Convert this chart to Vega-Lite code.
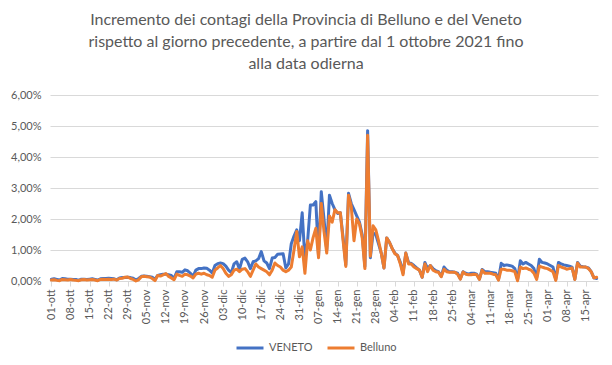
{
  "$schema": "https://vega.github.io/schema/vega-lite/v6.json",
  "width": 548,
  "height": 186,
  "autosize": {"type": "none"},
  "padding": {"left": 50, "top": 95, "right": 14, "bottom": 84},
  "background": "white",
  "title": {
    "text": ["Incremento dei contagi della Provincia di Belluno e del  Veneto", "rispetto al giorno precedente, a partire dal 1 ottobre 2021 fino", "alla data odierna"],
    "fontSize": 16, "font": "Lato", "fontWeight": "normal", "color": "#595959",
    "lineHeight": 22, "anchor": "middle", "dx": -18, "offset": 17
  },
  "data": {"values": [
    {"d":"2021-10-01","V":0.06,"B":0.03},{"d":"2021-10-02","V":0.07,"B":0.04},{"d":"2021-10-03","V":0.05,"B":0.02},{"d":"2021-10-04","V":0.03,"B":0.01},{"d":"2021-10-05","V":0.08,"B":0.05},{"d":"2021-10-06","V":0.07,"B":0.04},{"d":"2021-10-07","V":0.06,"B":0.03},{"d":"2021-10-08","V":0.06,"B":0.05},{"d":"2021-10-09","V":0.05,"B":0.03},{"d":"2021-10-10","V":0.05,"B":0.02},
    {"d":"2021-10-11","V":0.02,"B":0.01},{"d":"2021-10-12","V":0.06,"B":0.04},{"d":"2021-10-13","V":0.06,"B":0.05},{"d":"2021-10-14","V":0.05,"B":0.03},{"d":"2021-10-15","V":0.06,"B":0.04},{"d":"2021-10-16","V":0.07,"B":0.05},{"d":"2021-10-17","V":0.05,"B":0.03},{"d":"2021-10-18","V":0.03,"B":0.01},{"d":"2021-10-19","V":0.07,"B":0.05},{"d":"2021-10-20","V":0.08,"B":0.06},
    {"d":"2021-10-21","V":0.08,"B":0.05},{"d":"2021-10-22","V":0.09,"B":0.06},{"d":"2021-10-23","V":0.08,"B":0.05},{"d":"2021-10-24","V":0.07,"B":0.06},{"d":"2021-10-25","V":0.04,"B":0.03},{"d":"2021-10-26","V":0.10,"B":0.08},{"d":"2021-10-27","V":0.11,"B":0.09},{"d":"2021-10-28","V":0.11,"B":0.12},{"d":"2021-10-29","V":0.12,"B":0.13},{"d":"2021-10-30","V":0.11,"B":0.08},
    {"d":"2021-10-31","V":0.09,"B":0.05},
    {"d":"2021-11-01","V":0.03,"B":0.00},{"d":"2021-11-02","V":0.08,"B":0.04},{"d":"2021-11-03","V":0.15,"B":0.14},{"d":"2021-11-04","V":0.16,"B":0.15},{"d":"2021-11-05","V":0.15,"B":0.14},{"d":"2021-11-06","V":0.14,"B":0.13},{"d":"2021-11-07","V":0.12,"B":0.08},{"d":"2021-11-08","V":0.05,"B":0.01},{"d":"2021-11-09","V":0.18,"B":0.18},{"d":"2021-11-10","V":0.20,"B":0.16},
    {"d":"2021-11-11","V":0.22,"B":0.20},{"d":"2021-11-12","V":0.22,"B":0.24},{"d":"2021-11-13","V":0.20,"B":0.15},{"d":"2021-11-14","V":0.18,"B":0.10},{"d":"2021-11-15","V":0.08,"B":0.04},{"d":"2021-11-16","V":0.30,"B":0.22},{"d":"2021-11-17","V":0.30,"B":0.18},{"d":"2021-11-18","V":0.28,"B":0.15},{"d":"2021-11-19","V":0.36,"B":0.22},{"d":"2021-11-20","V":0.33,"B":0.20},
    {"d":"2021-11-21","V":0.25,"B":0.16},{"d":"2021-11-22","V":0.15,"B":0.10},{"d":"2021-11-23","V":0.35,"B":0.22},{"d":"2021-11-24","V":0.40,"B":0.25},{"d":"2021-11-25","V":0.40,"B":0.22},{"d":"2021-11-26","V":0.42,"B":0.25},{"d":"2021-11-27","V":0.41,"B":0.20},{"d":"2021-11-28","V":0.35,"B":0.18},{"d":"2021-11-29","V":0.26,"B":0.12},{"d":"2021-11-30","V":0.50,"B":0.35},
    {"d":"2021-12-01","V":0.56,"B":0.42},{"d":"2021-12-02","V":0.58,"B":0.50},{"d":"2021-12-03","V":0.56,"B":0.40},{"d":"2021-12-04","V":0.48,"B":0.25},{"d":"2021-12-05","V":0.35,"B":0.15},{"d":"2021-12-06","V":0.27,"B":0.20},{"d":"2021-12-07","V":0.55,"B":0.35},{"d":"2021-12-08","V":0.62,"B":0.38},{"d":"2021-12-09","V":0.38,"B":0.30},{"d":"2021-12-10","V":0.70,"B":0.38},
    {"d":"2021-12-11","V":0.74,"B":0.40},{"d":"2021-12-12","V":0.62,"B":0.30},{"d":"2021-12-13","V":0.40,"B":0.15},{"d":"2021-12-14","V":0.62,"B":0.35},{"d":"2021-12-15","V":0.65,"B":0.55},{"d":"2021-12-16","V":0.72,"B":0.45},{"d":"2021-12-17","V":0.95,"B":0.40},{"d":"2021-12-18","V":0.65,"B":0.35},{"d":"2021-12-19","V":0.58,"B":0.30},{"d":"2021-12-20","V":0.40,"B":0.20},
    {"d":"2021-12-21","V":0.74,"B":0.35},{"d":"2021-12-22","V":0.76,"B":0.58},{"d":"2021-12-23","V":0.86,"B":0.50},{"d":"2021-12-24","V":0.87,"B":0.45},{"d":"2021-12-25","V":0.88,"B":0.35},{"d":"2021-12-26","V":0.42,"B":0.30},{"d":"2021-12-27","V":0.55,"B":0.35},{"d":"2021-12-28","V":1.20,"B":0.45},{"d":"2021-12-29","V":1.45,"B":1.00},{"d":"2021-12-30","V":1.65,"B":1.60},
    {"d":"2021-12-31","V":1.30,"B":0.78},
    {"d":"2022-01-01","V":2.20,"B":1.10},{"d":"2022-01-02","V":0.70,"B":0.25},{"d":"2022-01-03","V":1.30,"B":1.30},{"d":"2022-01-04","V":2.45,"B":1.00},{"d":"2022-01-05","V":2.45,"B":1.40},{"d":"2022-01-06","V":2.56,"B":1.70},{"d":"2022-01-07","V":0.80,"B":0.75},{"d":"2022-01-08","V":2.88,"B":2.50},{"d":"2022-01-09","V":2.00,"B":1.60},{"d":"2022-01-10","V":1.00,"B":0.90},
    {"d":"2022-01-11","V":2.77,"B":2.10},{"d":"2022-01-12","V":2.50,"B":1.90},{"d":"2022-01-13","V":2.30,"B":2.30},{"d":"2022-01-14","V":2.18,"B":2.20},{"d":"2022-01-15","V":2.20,"B":2.20},{"d":"2022-01-16","V":1.40,"B":1.30},{"d":"2022-01-17","V":0.52,"B":0.47},{"d":"2022-01-18","V":2.83,"B":2.77},{"d":"2022-01-19","V":2.50,"B":2.40},{"d":"2022-01-20","V":2.30,"B":1.30},
    {"d":"2022-01-21","V":2.10,"B":2.00},{"d":"2022-01-22","V":1.90,"B":1.85},{"d":"2022-01-23","V":1.50,"B":1.40},{"d":"2022-01-24","V":0.47,"B":0.40},{"d":"2022-01-25","V":4.85,"B":4.70},{"d":"2022-01-26","V":0.75,"B":0.80},{"d":"2022-01-27","V":1.55,"B":1.78},{"d":"2022-01-28","V":1.50,"B":1.65},{"d":"2022-01-29","V":1.20,"B":1.30},{"d":"2022-01-30","V":0.90,"B":0.90},
    {"d":"2022-01-31","V":0.42,"B":0.42},
    {"d":"2022-02-01","V":1.39,"B":1.39},{"d":"2022-02-02","V":1.25,"B":1.25},{"d":"2022-02-03","V":1.05,"B":1.05},{"d":"2022-02-04","V":0.90,"B":0.88},{"d":"2022-02-05","V":0.82,"B":0.82},{"d":"2022-02-06","V":0.60,"B":0.55},{"d":"2022-02-07","V":0.26,"B":0.20},{"d":"2022-02-08","V":0.90,"B":0.90},{"d":"2022-02-09","V":0.60,"B":0.55},{"d":"2022-02-10","V":0.57,"B":0.55},
    {"d":"2022-02-11","V":0.50,"B":0.45},{"d":"2022-02-12","V":0.42,"B":0.40},{"d":"2022-02-13","V":0.35,"B":0.35},{"d":"2022-02-14","V":0.12,"B":0.12},{"d":"2022-02-15","V":0.60,"B":0.55},{"d":"2022-02-16","V":0.40,"B":0.30},{"d":"2022-02-17","V":0.50,"B":0.50},{"d":"2022-02-18","V":0.40,"B":0.35},{"d":"2022-02-19","V":0.33,"B":0.30},{"d":"2022-02-20","V":0.30,"B":0.28},
    {"d":"2022-02-21","V":0.15,"B":0.14},{"d":"2022-02-22","V":0.45,"B":0.38},{"d":"2022-02-23","V":0.35,"B":0.30},{"d":"2022-02-24","V":0.30,"B":0.28},{"d":"2022-02-25","V":0.30,"B":0.28},{"d":"2022-02-26","V":0.28,"B":0.28},{"d":"2022-02-27","V":0.25,"B":0.22},{"d":"2022-02-28","V":0.07,"B":0.06},
    {"d":"2022-03-01","V":0.30,"B":0.29},{"d":"2022-03-02","V":0.25,"B":0.22},{"d":"2022-03-03","V":0.22,"B":0.20},{"d":"2022-03-04","V":0.25,"B":0.20},{"d":"2022-03-05","V":0.25,"B":0.22},{"d":"2022-03-06","V":0.22,"B":0.20},{"d":"2022-03-07","V":0.06,"B":0.05},{"d":"2022-03-08","V":0.37,"B":0.35},{"d":"2022-03-09","V":0.30,"B":0.25},{"d":"2022-03-10","V":0.30,"B":0.25},
    {"d":"2022-03-11","V":0.28,"B":0.25},{"d":"2022-03-12","V":0.27,"B":0.22},{"d":"2022-03-13","V":0.25,"B":0.20},{"d":"2022-03-14","V":0.05,"B":0.03},{"d":"2022-03-15","V":0.57,"B":0.38},{"d":"2022-03-16","V":0.50,"B":0.38},{"d":"2022-03-17","V":0.52,"B":0.35},{"d":"2022-03-18","V":0.50,"B":0.35},{"d":"2022-03-19","V":0.48,"B":0.33},{"d":"2022-03-20","V":0.40,"B":0.30},
    {"d":"2022-03-21","V":0.05,"B":0.01},{"d":"2022-03-22","V":0.65,"B":0.45},{"d":"2022-03-23","V":0.55,"B":0.40},{"d":"2022-03-24","V":0.60,"B":0.42},{"d":"2022-03-25","V":0.55,"B":0.38},{"d":"2022-03-26","V":0.50,"B":0.35},{"d":"2022-03-27","V":0.40,"B":0.25},{"d":"2022-03-28","V":0.10,"B":0.05},{"d":"2022-03-29","V":0.70,"B":0.48},{"d":"2022-03-30","V":0.60,"B":0.45},
    {"d":"2022-03-31","V":0.58,"B":0.42},
    {"d":"2022-04-01","V":0.55,"B":0.40},{"d":"2022-04-02","V":0.50,"B":0.35},{"d":"2022-04-03","V":0.45,"B":0.30},{"d":"2022-04-04","V":0.05,"B":0.02},{"d":"2022-04-05","V":0.60,"B":0.50},{"d":"2022-04-06","V":0.55,"B":0.45},{"d":"2022-04-07","V":0.52,"B":0.42},{"d":"2022-04-08","V":0.50,"B":0.38},{"d":"2022-04-09","V":0.48,"B":0.40},{"d":"2022-04-10","V":0.45,"B":0.42},
    {"d":"2022-04-11","V":0.06,"B":0.05},{"d":"2022-04-12","V":0.60,"B":0.58},{"d":"2022-04-13","V":0.48,"B":0.45},{"d":"2022-04-14","V":0.46,"B":0.45},{"d":"2022-04-15","V":0.45,"B":0.45},{"d":"2022-04-16","V":0.42,"B":0.40},{"d":"2022-04-17","V":0.30,"B":0.30},{"d":"2022-04-18","V":0.10,"B":0.10},{"d":"2022-04-19","V":0.08,"B":0.12}
  ]},
  "encoding": {
    "x": {
      "field": "d", "type": "temporal",
      "scale": {"type": "utc", "nice": false, "domain": [{"year": 2021, "month": 9, "date": 30, "hours": 12, "utc": true}, {"year": 2022, "month": 4, "date": 19, "hours": 12, "utc": true}]},
      "axis": {
        "title": null, "grid": false, "labelAngle": -90,
        "values": [
          {"year":2021,"month":10,"date":1,"utc":true},{"year":2021,"month":10,"date":8,"utc":true},{"year":2021,"month":10,"date":15,"utc":true},{"year":2021,"month":10,"date":22,"utc":true},{"year":2021,"month":10,"date":29,"utc":true},
          {"year":2021,"month":11,"date":5,"utc":true},{"year":2021,"month":11,"date":12,"utc":true},{"year":2021,"month":11,"date":19,"utc":true},{"year":2021,"month":11,"date":26,"utc":true},
          {"year":2021,"month":12,"date":3,"utc":true},{"year":2021,"month":12,"date":10,"utc":true},{"year":2021,"month":12,"date":17,"utc":true},{"year":2021,"month":12,"date":24,"utc":true},{"year":2021,"month":12,"date":31,"utc":true},
          {"year":2022,"month":1,"date":7,"utc":true},{"year":2022,"month":1,"date":14,"utc":true},{"year":2022,"month":1,"date":21,"utc":true},{"year":2022,"month":1,"date":28,"utc":true},
          {"year":2022,"month":2,"date":4,"utc":true},{"year":2022,"month":2,"date":11,"utc":true},{"year":2022,"month":2,"date":18,"utc":true},{"year":2022,"month":2,"date":25,"utc":true},
          {"year":2022,"month":3,"date":4,"utc":true},{"year":2022,"month":3,"date":11,"utc":true},{"year":2022,"month":3,"date":18,"utc":true},{"year":2022,"month":3,"date":25,"utc":true},
          {"year":2022,"month":4,"date":1,"utc":true},{"year":2022,"month":4,"date":8,"utc":true},{"year":2022,"month":4,"date":15,"utc":true}
        ],
        "labelExpr": "utcFormat(datum.value, '%d') + '-' + ['gen','feb','mar','apr','mag','giu','lug','ago','set','ott','nov','dic'][utcmonth(datum.value)]",
        "domainColor": "#D9D9D9", "tickColor": "#D9D9D9", "tickSize": 5,
        "labelColor": "#595959", "labelFontSize": 11, "labelFont": "Lato", "labelPadding": 3,
        "labelOverlap": false, "labelBound": false, "labelFlush": false
      }
    }
  },
  "layer": [
    {
      "mark": {"type": "line", "strokeWidth": 3, "strokeJoin": "round", "strokeCap": "round"},
      "encoding": {
        "y": {
          "field": "V", "type": "quantitative",
          "scale": {"domain": [0, 6], "nice": false},
          "axis": {
            "title": null, "values": [0, 1, 2, 3, 4, 5, 6], "tickCount": 7,
            "labelExpr": "replace(format(datum.value, '.2f'), '.', ',') + '%'",
            "domain": false, "ticks": false, "gridColor": "#D9D9D9", "labelOverlap": false,
            "labelColor": "#595959", "labelFontSize": 11, "labelFont": "Lato", "labelPadding": 9
          }
        },
        "color": {
          "datum": "VENETO",
          "scale": {"domain": ["VENETO", "Belluno"], "range": ["#4472C4", "#ED7D31"]},
          "legend": {
            "title": null, "orient": "none", "legendX": 185, "legendY": 238, "direction": "horizontal",
            "symbolType": "stroke", "symbolStrokeWidth": 3, "symbolSize": 729,
            "labelFontSize": 11, "labelColor": "#595959", "labelFont": "Lato", "columnPadding": 8
          }
        }
      }
    },
    {
      "mark": {"type": "line", "strokeWidth": 3, "strokeJoin": "round", "strokeCap": "round"},
      "encoding": {
        "y": {
          "field": "B", "type": "quantitative",
          "scale": {"domain": [0, 6], "nice": false},
          "axis": {
            "title": null, "values": [0, 1, 2, 3, 4, 5, 6], "tickCount": 7,
            "labelExpr": "replace(format(datum.value, '.2f'), '.', ',') + '%'",
            "domain": false, "ticks": false, "gridColor": "#D9D9D9", "labelOverlap": false,
            "labelColor": "#595959", "labelFontSize": 11, "labelFont": "Lato", "labelPadding": 9
          }
        },
        "color": {"datum": "Belluno"}
      }
    }
  ],
  "config": {"view": {"stroke": null}}
}
